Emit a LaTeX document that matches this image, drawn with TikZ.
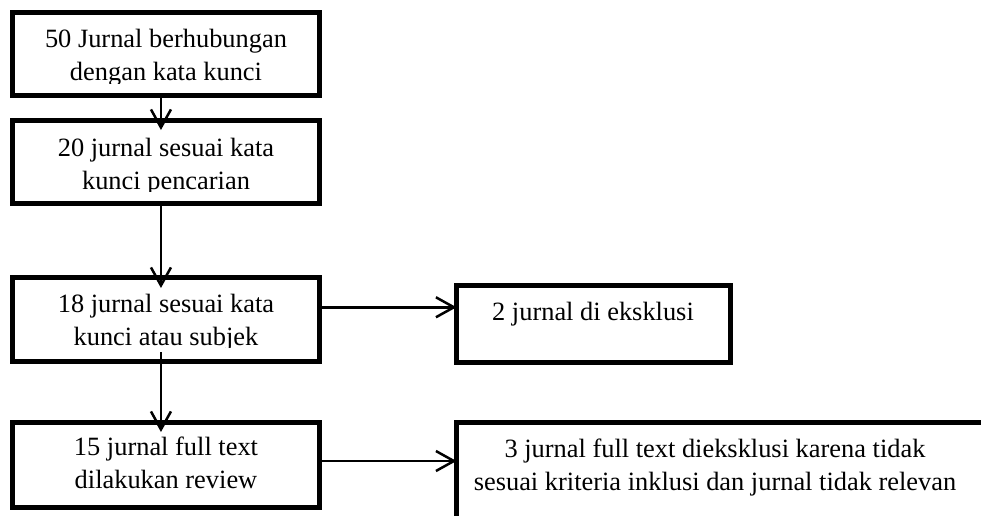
\documentclass[tikz,border=0pt]{standalone}
\usepackage{fontspec}
\setmainfont{Liberation Serif}
\usetikzlibrary{arrows.meta}
\begin{document}
\begin{tikzpicture}[x=0.5pt,y=-0.5pt,
  box/.style={draw, line width=2.5pt, inner sep=0pt, outer sep=0pt, anchor=north west},
  txt/.style={inner sep=0pt, anchor=base, align=center, font=\fontsize{13.2pt}{16.5pt}\selectfont},
  arr/.style={line width=1.25pt, -{Straight Barb[length=9pt,width=10pt,line width=1.25pt]}}]
\clip (0,0) rectangle (981,515);
% boxes
\node[box, minimum width=153.25pt, minimum height=41.5pt] (b1) at (12.5,12) {};
\node[box, minimum width=153.25pt, minimum height=41.75pt] (b2) at (12.5,120) {};
\node[box, minimum width=153.25pt, minimum height=42.25pt] (b3) at (12.5,277) {};
\node[box, minimum width=153.25pt, minimum height=42.5pt] (b4) at (12.5,422.5) {};
\node[box, minimum width=136.75pt, minimum height=38.5pt] (b5) at (456.5,285) {};
\node[box, minimum width=275pt, minimum height=60pt] (b6) at (456.5,422.5) {};
% texts (descenders cut as in the reference)
\begin{scope}
\clip (15,15) rectangle (317,83);
\node[txt] (t1) at (166,80.5) {50 Jurnal berhubungan\\dengan kata kunci};
\end{scope}
\begin{scope}
\clip (15,123) rectangle (317,191.5);
\node[txt] (t2) at (166,189.5) {20 jurnal sesuai kata\\kunci pencarian};
\end{scope}
\begin{scope}
\clip (15,280) rectangle (317,347);
\node[txt] (t3) at (166,345) {18 jurnal sesuai kata\\kunci atau subjek};
\end{scope}
\node[txt] (t4) at (166,488.5) {15 jurnal full text\\dilakukan review};
\node[txt] (t5) at (593,320) {2 jurnal di eksklusi};
\node[txt] (t6) at (715,490) {3 jurnal full text dieksklusi karena tidak\\sesuai kriteria inklusi dan jurnal tidak relevan};
% connectors
\draw[arr] ([xshift=-2.4pt]b1.south) -- ([xshift=-2.4pt,yshift=-5pt]b2.north);
\draw[arr] ([xshift=-2.4pt]b2.south) -- ([xshift=-2.4pt,yshift=-5.5pt]b3.north);
\draw[arr] ([xshift=-2.4pt,yshift=4.75pt]b3.south) -- ([xshift=-2.4pt,yshift=-4.75pt]b4.north);
\draw[arr] ([yshift=6pt]b3.east) -- ([yshift=6pt]b3.east -| b5.west);
\draw[arr] ([yshift=2pt]b4.east) -- ([yshift=2pt]b4.east -| b6.west);
\end{tikzpicture}
\end{document}
